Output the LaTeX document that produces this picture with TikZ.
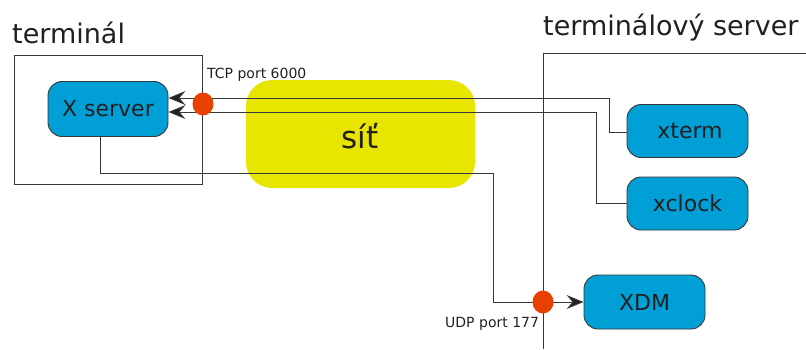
\documentclass[tikz,border=0pt]{standalone}
\usepackage{fontspec}
\setmainfont{DejaVu Sans}
\usetikzlibrary{arrows.meta,shapes.geometric}
\definecolor{nodeblue}{RGB}{0,160,214}
\definecolor{netyellow}{RGB}{232,230,0}
\definecolor{portred}{RGB}{232,64,0}
\definecolor{txt}{RGB}{35,31,32}
\definecolor{ln}{RGB}{55,55,55}
\begin{document}
\begin{tikzpicture}[x=1pt,y=-1pt,
  proc/.style={draw=ln, line width=0.9pt, fill=nodeblue, rounded corners=14pt, inner sep=0pt,
    minimum width=121pt, minimum height=53pt, text=txt, font=\fontsize{22}{24}\selectfont},
  conn/.style={draw=ln, line width=0.9pt},
  arr/.style={conn, -{Stealth[length=17pt,width=14pt,inset=6pt,fill=txt]}},
  portdot/.style={ellipse, fill=portred, inner sep=0pt, minimum width=21pt, minimum height=23pt},
  small/.style={text=txt, font=\fontsize{14}{15}\selectfont, inner sep=0pt},
  big/.style={text=txt, font=\fontsize{27}{30}\selectfont, inner sep=0pt}]
\useasboundingbox (0,0) rectangle (806,349);
% network
\node[fill=netyellow, rounded corners=26pt, minimum width=229pt, minimum height=108pt, inner sep=0pt] (net) at (360.5,134) {};
\node[text=txt, font=\fontsize{31}{34}\selectfont, inner sep=0pt] (nettext) at (360,136) {síť};
% terminal box
\node[draw=ln, line width=0.9pt, minimum width=188pt, minimum height=129pt, inner sep=0pt] (term) at (108,119.5) {};
\node[big, anchor=base west] (termlabel) at (12,43) {terminál};
% server region
\coordinate (srvtr) at (806,53);
\coordinate (srvtl) at (543,53);
\coordinate (srvbl) at (543,349);
\draw[conn] (srvtr) -- (srvtl) -- (srvbl);
\node[big, anchor=base west] (srvlabel) at (543,35) {terminálový server};
% nodes
\node[proc, minimum width=120pt, minimum height=55pt] (xserver) at (108,109) {X server};
\node[proc] (xterm) at (687.5,131) {\hspace{5pt}xterm};
\node[proc] (xclock) at (687.5,203.5) {xclock};
\node[proc, minimum height=54pt] (xdm) at (644.5,302) {XDM};
% connectors
\draw[arr] (xterm.west |- 0,132) -- (609,132) -- (609,98) -- (xserver.east |- 0,98);
\draw[arr] (xclock.west |- 0,203) -- (596,203) -- (596,112) -- (xserver.east |- 0,112);
\draw[arr] (xserver.south -| 100,0) -- (100,173) -- (493,173) -- (493,302) -- (xdm.west);
% ports
\node[portdot] (tcp) at (203,104) {};
\node[portdot] (udp) at (543,302) {};
\node[small, anchor=base west] (tcplabel) at (207,78) {TCP port 6000};
\node[small, anchor=base west] (udplabel) at (445,327) {UDP port 177};
\end{tikzpicture}
\end{document}
